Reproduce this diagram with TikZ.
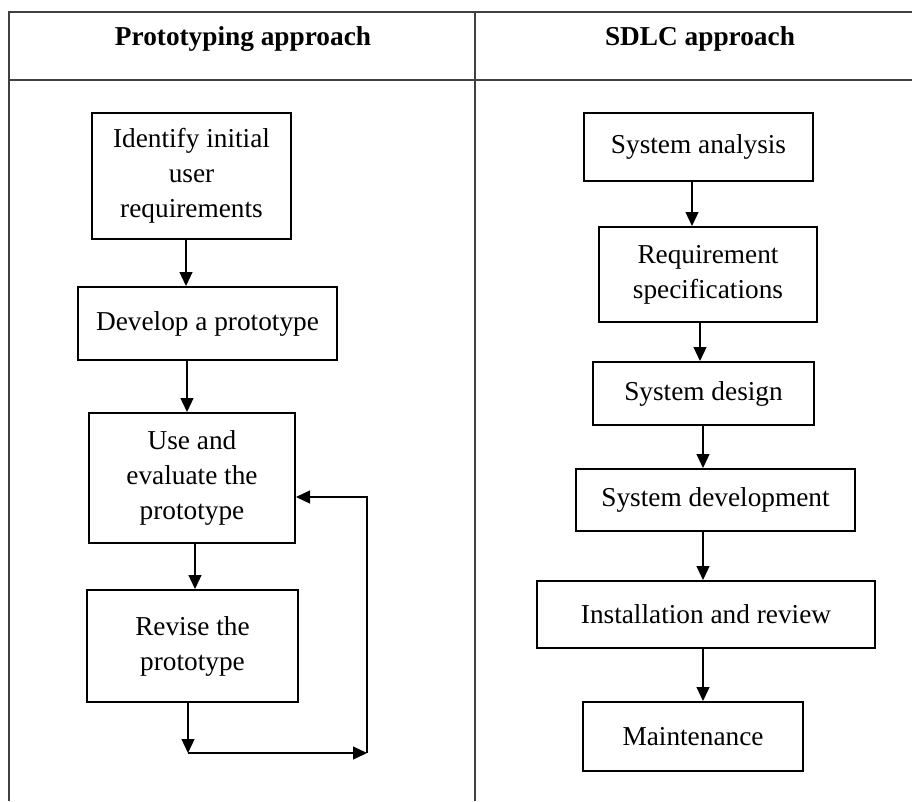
\documentclass[tikz,border=0pt]{standalone}
\usepackage{fontspec}
\setmainfont{Liberation Serif}
\usetikzlibrary{arrows.meta}

\newcommand{\boxfont}{\fontsize{27.3}{35}\selectfont}
\tikzset{
  stepbox/.style={draw, line width=2pt, inner sep=0pt, align=center, font=\boxfont},
  flow/.style={line width=1.2pt, -{Triangle[length=14pt,width=13pt]}},
  grid line/.style={line width=1.3pt, black!75},
}

\begin{document}
\begin{tikzpicture}[x=1pt,y=-1pt]
    \useasboundingbox (0,0) rectangle (912,801);

    % Table frame
    \draw[grid line] (912,12) -- (9,12) -- (9,801);
    \draw[grid line] (9,80) -- (912,80);
    \draw[grid line] (475,12) -- (475,801);

    % Headings
    \node[font=\boxfont\bfseries, anchor=base] (headproto) at (243,45) {Prototyping approach};
    \node[font=\boxfont\bfseries, anchor=base] (headsdlc) at (700,45) {SDLC approach};

    % Prototyping steps
    \node[stepbox, minimum width=199pt, minimum height=126pt] (ident) at (191.5,176) {Identify initial\\user\\requirements};
    \node[stepbox, minimum width=259pt, minimum height=73pt] (develop) at (207.5,323.5) {Develop a prototype};
    \node[stepbox, minimum width=206pt, minimum height=130pt] (use) at (192,478) {Use and\\evaluate the\\prototype};
    \node[stepbox, minimum width=211pt, minimum height=112pt] (revise) at (192.5,646) {Revise the\\prototype};

    % SDLC steps
    \node[stepbox, minimum width=229pt, minimum height=68pt] (analysis) at (698.5,147) {System analysis};
    \node[stepbox, minimum width=218pt, minimum height=95pt] (reqspec) at (708,274.5) {Requirement\\specifications};
    \node[stepbox, minimum width=221pt, minimum height=63pt] (design) at (703.5,393.5) {System design};
    \node[stepbox, minimum width=279pt, minimum height=62pt] (sysdev) at (715.5,500) {System development};
    \node[stepbox, minimum width=338pt, minimum height=67pt] (install) at (706,614.5) {Installation and review};
    \node[stepbox, minimum width=220pt, minimum height=69pt] (maint) at (693,736.5) {Maintenance};

    % Prototyping arrows
    \draw[flow] ([xshift=-5.5pt]ident.south) -- ([xshift=-21.5pt]develop.north);
    \draw[flow] ([xshift=-20.5pt]develop.south) -- ([xshift=-5pt]use.north);
    \draw[flow] ([xshift=3pt]use.south) -- ([xshift=2.5pt]revise.north);

    % Feedback loop
    \coordinate (loopa) at (188,753);
    \coordinate (loopb) at (367,753);
    \coordinate (loopc) at (367,497);
    \draw[flow] ([xshift=-4.5pt]revise.south) -- (loopa);
    \draw[flow] (loopa) -- (loopb);
    \draw[flow] (loopb) -- (loopc) -- (use.east |- loopc);

    % SDLC arrows
    \draw[flow] ([xshift=-6.5pt]analysis.south) -- ([xshift=-16pt]reqspec.north);
    \draw[flow] ([xshift=-8pt]reqspec.south) -- ([xshift=-3.5pt]design.north);
    \draw[flow] ([xshift=-0.5pt]design.south) -- ([xshift=-12.5pt]sysdev.north);
    \draw[flow] ([xshift=-12.5pt]sysdev.south) -- ([xshift=-3pt]install.north);
    \draw[flow] ([xshift=-3pt]install.south) -- ([xshift=10pt]maint.north);

\end{tikzpicture}
\end{document}
